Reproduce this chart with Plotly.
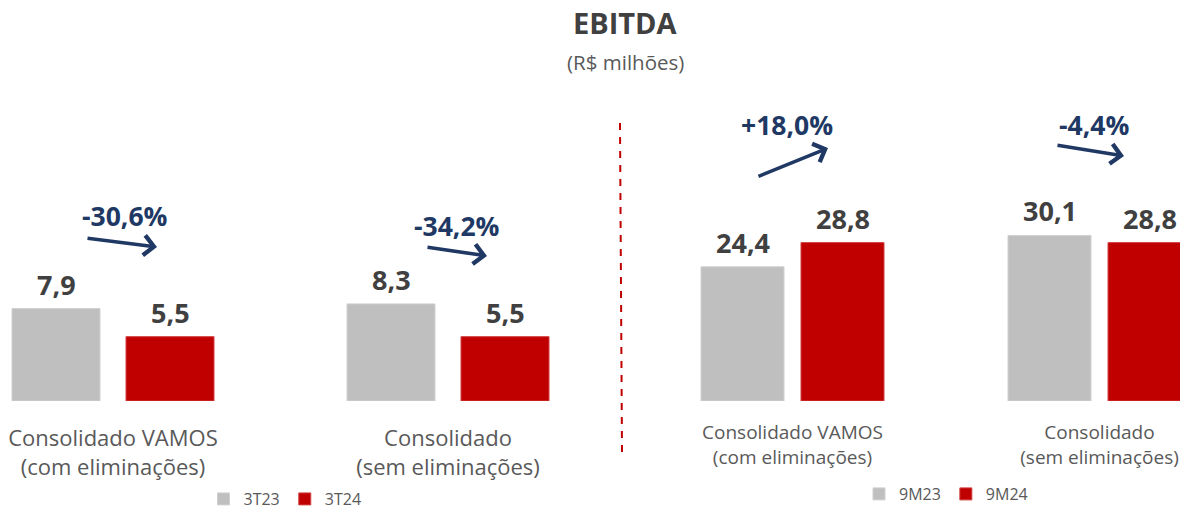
import plotly.graph_objects as go

# ---------------- data ----------------
categories = ["Consolidado VAMOS<br>(com eliminações)", "Consolidado<br>(sem eliminações)"]
quarter_series = ["3T23", "3T24"]
quarter_prev = [7.9, 8.3]
quarter_curr = [5.5, 5.5]
quarter_changes = ["-30,6%", "-34,2%"]

ytd_series = ["9M23", "9M24"]
ytd_prev = [24.4, 30.1]
ytd_curr = [28.8, 28.8]
ytd_changes = ["+18,0%", "-4,4%"]

# ---------------- style ----------------
W, H = 1180, 511
FONT = "Open Sans"
GRAY, RED = "#BFBFBF", "#C00000"
GRAY_LINE, RED_LINE = "#D0D0D0", "#D24040"
NAVY = "#203864"
DARK = "#404040"
MID = "#595959"


def px_x(p):
    return p / W


def px_y(p):
    return 1 - p / H


def fmt(v):
    return f"{v:.1f}".replace(".", ",")


fig = go.Figure()

# geometry (in category units)
L_W, L_OFF = 88 / 335, [-101 / 335, 13 / 335]
R_W, R_OFF = 83 / 307, [-91.5 / 307, 8.5 / 307]

panels = [
    dict(xa="x", ya="y", leg="legend", names=quarter_series,
         vals=[quarter_prev, quarter_curr], w=L_W, offs=L_OFF),
    dict(xa="x2", ya="y2", leg="legend2", names=ytd_series,
         vals=[ytd_prev, ytd_curr], w=R_W, offs=R_OFF),
]

annotations = []
for p in panels:
    for k, (name, vals, col, lc) in enumerate(zip(p["names"], p["vals"], [GRAY, RED], [GRAY_LINE, RED_LINE])):
        xs = list(range(len(vals)))
        fig.add_trace(go.Bar(
            x=xs, y=vals, name=name, width=p["w"], offset=p["offs"][k],
            marker=dict(color=col, line=dict(color=lc, width=1)),
            xaxis=p["xa"], yaxis=p["ya"], legend=p["leg"], hoverinfo="skip",
        ))
        for i, v in enumerate(vals):
            annotations.append(dict(
                x=i + p["offs"][k] + p["w"] / 2, y=v, xref=p["xa"], yref=p["ya"],
                text=f"<b>{fmt(v)}</b>", showarrow=False, yanchor="bottom", yshift=4,
                font=dict(family=FONT, size=27, color=DARK),
            ))

# change labels and arrows (decorations, pixel positions)
change_labels = quarter_changes + ytd_changes
label_pos = [(125, 216), (457, 226), (787, 125), (1094, 125)]
arrow_tail = [(86, 238), (426, 247), (757, 177), (1056, 145)]
arrow_head = [(157, 247), (487, 256), (828, 148), (1124, 156)]
for txt, (lx, ly), (tx, ty), (hx, hy) in zip(change_labels, label_pos, arrow_tail, arrow_head):
    annotations.append(dict(
        x=px_x(lx), y=px_y(ly), xref="paper", yref="paper", text=f"<b>{txt}</b>",
        showarrow=False, xanchor="center", yanchor="middle",
        font=dict(family=FONT, size=26.5, color=NAVY),
    ))
    annotations.append(dict(
        x=px_x(hx), y=px_y(hy), xref="paper", yref="paper", text="",
        showarrow=True, ax=tx - hx, ay=ty - hy, axref="pixel", ayref="pixel",
        arrowhead=4, arrowsize=1.1, arrowwidth=3.5, arrowcolor=NAVY, standoff=0,
    ))

# title
annotations.append(dict(x=px_x(625), y=px_y(22), xref="paper", yref="paper",
                        text="<b>EBITDA</b>", showarrow=False, yanchor="middle",
                        font=dict(family=FONT, size=29, color=DARK)))
annotations.append(dict(x=px_x(625), y=px_y(62), xref="paper", yref="paper",
                        text="(R$ milhões)", showarrow=False, yanchor="middle",
                        font=dict(family=FONT, size=20.5, color=MID)))

y_dom = [px_y(401), px_y(100)]

fig.update_layout(
    width=W, height=H,
    margin=dict(l=0, r=0, t=0, b=0, autoexpand=False),
    paper_bgcolor="white", plot_bgcolor="white",
    barmode="overlay",
    font=dict(family=FONT, color=MID),
    annotations=annotations,
    xaxis=dict(domain=[0, px_x(600)], range=[-113 / 335, (600 - 113) / 335],
               tickvals=[0, 1], ticktext=categories, showgrid=False, zeroline=False,
               showline=False, ticks="", ticklabelstandoff=22, automargin=False,
               tickfont=dict(family=FONT, size=22, color=MID), fixedrange=True),
    yaxis=dict(domain=y_dom, range=[0, 301 / 11.7], visible=False, fixedrange=True),
    xaxis2=dict(domain=[px_x(630), 1], range=[(630 - 792.5) / 307, (1180 - 792.5) / 307],
                tickvals=[0, 1], ticktext=categories, showgrid=False, zeroline=False,
                showline=False, ticks="", ticklabelstandoff=18, automargin=False,
                tickfont=dict(family=FONT, size=19, color=MID), fixedrange=True),
    yaxis2=dict(domain=y_dom, range=[0, 301 / 5.5], visible=False, fixedrange=True, anchor="x2"),
    legend=dict(orientation="h", x=px_x(285), xanchor="center", y=px_y(499), yanchor="middle",
                font=dict(family=FONT, size=16, color=MID), bgcolor="rgba(0,0,0,0)"),
    legend2=dict(orientation="h", x=px_x(946), xanchor="center", y=px_y(494), yanchor="middle",
                 font=dict(family=FONT, size=16, color=MID), bgcolor="rgba(0,0,0,0)"),
    shapes=[dict(type="line", xref="paper", yref="paper",
                 x0=px_x(620), y0=px_y(123), x1=px_x(622), y1=px_y(452),
                 line=dict(color=RED, width=2, dash="7px,7px"))],
    showlegend=True,
)
fig.data[2].update(xaxis="x2", yaxis="y2")
fig.data[3].update(xaxis="x2", yaxis="y2")

fig.write_html("out.html", config={"displayModeBar": False},
               post_script="document.body.style.margin='0';document.body.style.overflow='hidden';")
